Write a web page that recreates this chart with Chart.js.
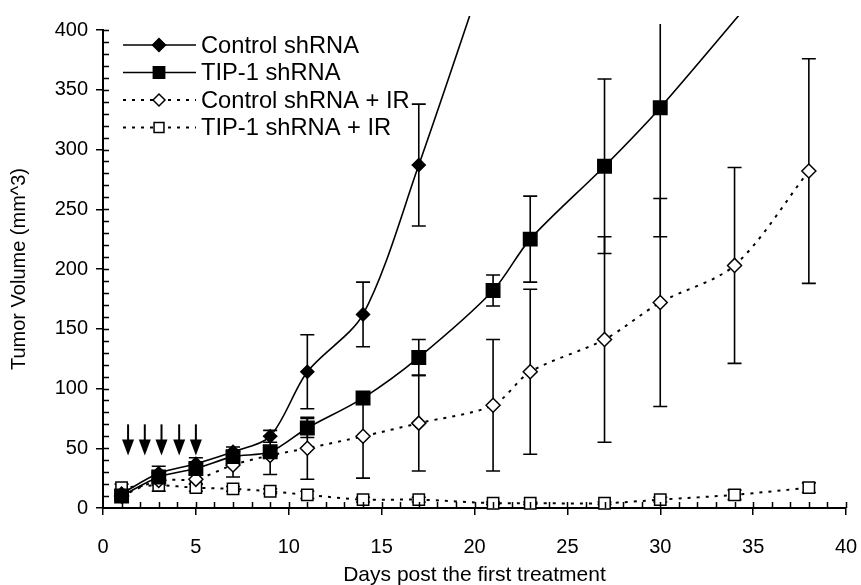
<!DOCTYPE html>
<html>
<head>
<meta charset="utf-8">
<script src="https://cdn.jsdelivr.net/npm/chart.js@4.4.0/dist/chart.umd.min.js"></script>
<style>
  html, body { margin: 0; padding: 0; background: #fff; }
  #wrap { width: 861px; height: 585px; }
</style>
</head>
<body>
<div id="wrap"><canvas id="chart" width="861" height="585"></canvas></div>
<script>
// measurement days
const DAYS = [1, 3, 5, 7, 9, 11, 14, 17, 21, 23, 27, 30, 34, 38];

// means (mm^3) - null = not measured; values above 400 run off the top
const CTRL       = [12, 29, 37, 47, 60, 114, 162, 287, 470, null, null, null, null, null];
const CTRL_ERR   = [3, 6, 5, 4, 5, 31, 27, 51, 0, null, null, null, null, null];
const TIP1       = [10, 26, 33, 43, 47, 67, 92, 126, 182, 225, 286, 335, null, 482];
const TIP1_ERR   = [2, 4, 3, 4, 4, 8, 5, 15, 13, 36, 73, 108, null, 0];
const CTRL_IR    = [10, 23, 24, 36, 44, 50, 60, 71, 86, 114, 141, 172, 203, 282];
const CTRL_IR_ERR= [3, 4, 4, 10, 16, 26, 35, 40, 55, 69, 86, 87, 82, 94];
const TIP1_IR    = [17, 19, 17, 16, 14, 11, 7, 7, 4, 4, 4, 7, 11, 17];
const TIP1_IR_ERR= [3, 5, 3, 2, 2, 3, 2, 2, 1, 1, 1, 2, 4, 4];

// treatment arrows (days)
const ARROW_DAYS = [1.35, 2.25, 3.15, 4.1, 5.0];
const ARROW_FROM = 70, ARROW_TO = 44;

const X_TICKS = [0, 5, 10, 15, 20, 25, 30, 35, 40];
const Y_TICKS = [0, 50, 100, 150, 200, 250, 300, 350, 400];

const FONT = '"Liberation Sans", Arial, sans-serif';

function pts(vals) {
  return DAYS.map((d, i) => ({ x: d, y: vals[i] }));
}

function mkSet(label, vals, errs, style) {
  return Object.assign({
    label,
    data: pts(vals),
    errs,
    borderColor: '#000',
    borderWidth: 1.6,
    tension: 0.3,
    spanGaps: true,
    clip: { left: 10, top: 14, right: 10, bottom: 10 },
    pointBorderColor: '#000',
    pointBorderWidth: 1.5,
    pointHoverRadius: 0
  }, style);
}

const datasets = [
  mkSet('Control shRNA', CTRL, CTRL_ERR, {
    pointStyle: 'rectRot', pointRadius: 6.5, pointBackgroundColor: '#000',
    legendRadius: 6.5
  }),
  mkSet('TIP-1 shRNA', TIP1, TIP1_ERR, {
    pointStyle: 'rect', pointRadius: 9.5, pointBackgroundColor: '#000',
    legendRadius: 8
  }),
  mkSet('Control shRNA + IR', CTRL_IR, CTRL_IR_ERR, {
    pointStyle: 'rectRot', pointRadius: 7, pointBackgroundColor: '#fff',
    borderDash: [3, 6], borderWidth: 2, legendRadius: 6
  }),
  mkSet('TIP-1 shRNA + IR', TIP1_IR, TIP1_IR_ERR, {
    pointStyle: 'rect', pointRadius: 8, pointBackgroundColor: '#fff',
    borderDash: [3, 6], borderWidth: 2, legendRadius: 7
  })
];

// error bars, drawn under the markers
const errorBars = {
  id: 'errorBars',
  beforeDatasetsDraw(chart) {
    const { ctx, chartArea: a, scales: { x, y } } = chart;
    ctx.save();
    ctx.beginPath();
    ctx.rect(a.left - 10, a.top - 6, a.right - a.left + 20, a.bottom - a.top + 16);
    ctx.clip();
    ctx.strokeStyle = '#000';
    ctx.lineWidth = 1.6;
    chart.data.datasets.forEach(ds => {
      ds.data.forEach((p, i) => {
        const e = ds.errs[i];
        if (p.y == null || !e) return;
        const px = x.getPixelForValue(p.x);
        const top = y.getPixelForValue(p.y + e);
        const bot = y.getPixelForValue(Math.max(p.y - e, 0));
        ctx.beginPath();
        ctx.moveTo(px, top); ctx.lineTo(px, bot);
        ctx.moveTo(px - 7, top); ctx.lineTo(px + 7, top);
        ctx.moveTo(px - 7, bot); ctx.lineTo(px + 7, bot);
        ctx.stroke();
      });
    });
    ctx.restore();
  }
};

// minor ticks + inner halves of the major ticks
const axisTicks = {
  id: 'axisTicks',
  afterDraw(chart) {
    const { ctx, chartArea: a, scales: { x, y } } = chart;
    ctx.save();
    ctx.strokeStyle = '#000';
    ctx.lineWidth = 1.5;
    ctx.beginPath();
    for (let d = 1; d <= 40; d++) {
      const px = Math.round(x.getPixelForValue(d)) + 0.5;
      ctx.moveTo(px, a.bottom); ctx.lineTo(px, a.bottom - 6);
    }
    for (let v = 10; v <= 400; v += 10) {
      const py = Math.round(y.getPixelForValue(v)) + 0.5;
      ctx.moveTo(a.left, py); ctx.lineTo(a.left + 6, py);
    }
    ctx.stroke();
    ctx.restore();
  }
};

// treatment arrows
const arrows = {
  id: 'arrows',
  afterDraw(chart) {
    const { ctx, scales: { x, y } } = chart;
    ctx.save();
    ctx.strokeStyle = '#000';
    ctx.fillStyle = '#000';
    ctx.lineWidth = 2;
    ARROW_DAYS.forEach(d => {
      const px = x.getPixelForValue(d);
      const y0 = y.getPixelForValue(ARROW_FROM);
      const y1 = y.getPixelForValue(ARROW_TO);
      ctx.beginPath();
      ctx.moveTo(px, y0); ctx.lineTo(px, y1 - 12);
      ctx.stroke();
      ctx.beginPath();
      ctx.moveTo(px - 6, y1 - 16);
      ctx.lineTo(px + 6, y1 - 16);
      ctx.lineTo(px, y1);
      ctx.closePath();
      ctx.fill();
    });
    ctx.restore();
  }
};

// legend inside the plot, top-left
const innerLegend = {
  id: 'innerLegend',
  afterDraw(chart) {
    const { ctx } = chart;
    ctx.save();
    ctx.font = '23.7px ' + FONT;
    ctx.textBaseline = 'middle';
    ctx.textAlign = 'left';
    chart.data.datasets.forEach((ds, i) => {
      const yy = 45 + i * 27.5;
      ctx.strokeStyle = '#000';
      ctx.lineWidth = ds.borderWidth;
      ctx.setLineDash(ds.borderDash || []);
      ctx.beginPath();
      ctx.moveTo(123, yy); ctx.lineTo(196, yy);
      ctx.stroke();
      ctx.setLineDash([]);
      ctx.fillStyle = ds.pointBackgroundColor;
      ctx.lineWidth = 1.5;
      Chart.helpers.drawPoint(ctx, {
        pointStyle: ds.pointStyle, radius: ds.legendRadius, rotation: 0, borderWidth: 1.5
      }, 159, yy);
      ctx.fillStyle = '#000';
      ctx.fillText(ds.label, 201, yy + 1);
    });
    ctx.restore();
  }
};

new Chart(document.getElementById('chart'), {
  type: 'line',
  data: { datasets },
  plugins: [errorBars, axisTicks, arrows, innerLegend],
  options: {
    responsive: false,
    devicePixelRatio: 1,
    animation: false,
    events: [],
    layout: { padding: { top: 30, right: 15, left: 0, bottom: 0 } },
    plugins: { legend: { display: false }, tooltip: { enabled: false } },
    scales: {
      x: {
        type: 'linear', min: 0, max: 40,
        afterBuildTicks: s => { s.ticks = X_TICKS.map(v => ({ value: v })); },
        afterFit: s => { s.height = 77; s.paddingLeft = 0; s.paddingRight = 0; },
        ticks: { color: '#000', font: { size: 20, family: FONT }, padding: 20 },
        grid: { drawOnChartArea: false, color: '#000', lineWidth: 1.5, tickLength: 7 },
        border: { color: '#000', width: 2 },
        title: {
          display: true, text: 'Days post the first treatment', color: '#000',
          font: { size: 21, family: FONT }, padding: { top: 0, bottom: -3 }
        }
      },
      y: {
        min: 0, max: 400,
        afterBuildTicks: s => { s.ticks = Y_TICKS.map(v => ({ value: v })); },
        afterFit: s => { s.width = 103; s.paddingTop = 0; s.paddingBottom = 0; },
        ticks: { color: '#000', font: { size: 20, family: FONT }, padding: 8 },
        grid: { drawOnChartArea: false, color: '#000', lineWidth: 1.5, tickLength: 7 },
        border: { color: '#000', width: 2 },
        title: {
          display: true, text: 'Tumor Volume (mm^3)', color: '#000',
          font: { size: 20, family: FONT }, padding: { top: 7, bottom: 0 }
        }
      }
    }
  }
});
</script>
</body>
</html>
